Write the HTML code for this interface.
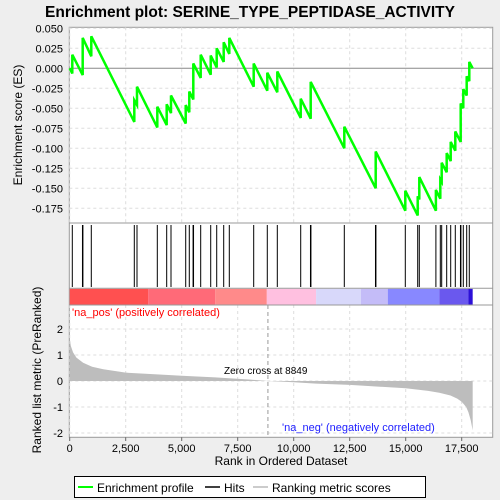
<!DOCTYPE html>
<html><head><meta charset="utf-8"><style>
body{margin:0;background:#eeeeee;}
svg{display:block;font-family:"Liberation Sans",sans-serif;}
</style></head><body>
<svg id="chart" width="500" height="500" viewBox="0 0 500 500">
<rect x="0" y="0" width="500" height="500" fill="#eeeeee"/>
<text x="250" y="17" text-anchor="middle" font-size="15.5" font-weight="bold" fill="#000">Enrichment plot: SERINE_TYPE_PEPTIDASE_ACTIVITY</text>
<rect x="69.3" y="27.3" width="423.4" height="410" fill="#fff" stroke="#999"/>
<g id="grid"></g>
<g id="es"></g>
<g id="hits"></g>
<g id="cbar"></g>
<g id="metric"></g>
<line x1="69.3" y1="223" x2="492.7" y2="223" stroke="#999"/>
<line x1="69.3" y1="288.3" x2="492.7" y2="288.3" stroke="#999"/>
<line x1="69.3" y1="305" x2="492.7" y2="305" stroke="#999"/>
<text x="72" y="316" font-size="11" fill="#ff0000">'na_pos' (positively correlated)</text>
<text x="282" y="431" font-size="11" fill="#2020ff">'na_neg' (negatively correlated)</text>
<text x="224" y="374" font-size="10" fill="#000">Zero cross at 8849</text>
<text x="22" y="125" transform="rotate(-90 22 125)" text-anchor="middle" font-size="12">Enrichment score (ES)</text>
<text x="41" y="370" transform="rotate(-90 41 370)" text-anchor="middle" font-size="12">Ranked list metric (PreRanked)</text>
<text x="281" y="465" text-anchor="middle" font-size="12">Rank in Ordered Dataset</text>
<g>
<rect x="74.5" y="476.5" width="351" height="21" fill="#fff" stroke="#000"/>
<line x1="78" y1="487" x2="93" y2="487" stroke="#00ff00" stroke-width="2"/>
<text x="97" y="492" font-size="12">Enrichment profile</text>
<line x1="205" y1="487" x2="220" y2="487" stroke="#000" stroke-width="1.5"/>
<text x="224" y="492" font-size="12">Hits</text>
<line x1="253" y1="487" x2="268" y2="487" stroke="#bbb" stroke-width="1.5"/>
<text x="272" y="492" font-size="12">Ranking metric scores</text>
</g>
</svg>
<script>
const N = 17990;
const hitRanks = [116,570,590,964,2884,3004,3911,4330,4522,5179,5339,5508,5528,5848,6295,6563,6875,7125,8214,8821,9268,10313,10749,10769,12259,13651,13671,14982,15536,15607,16348,16545,16607,16830,17009,17214,17445,17465,17571,17723,17839];
const esRanks = [116,580,964,2884,3004,3911,4330,4522,5179,5339,5518,5848,6295,6563,6875,7125,8214,8821,9268,10313,10759,12259,13661,14982,15536,15607,16348,16545,16607,16830,17009,17214,17455,17571,17723,17839];
const esBefore = [-0.0065,-0.0084,0.015,-0.067,-0.046,-0.074,-0.071,-0.056,-0.069,-0.055,-0.039,-0.012,-0.008,0.001,0.008,0.018,-0.023,-0.028,-0.030,-0.062,-0.063,-0.100,-0.150,-0.178,-0.184,-0.164,-0.178,-0.163,-0.142,-0.130,-0.116,-0.103,-0.092,-0.050,-0.034,-0.016];
const esAfter = [0.017,0.038,0.040,-0.040,-0.023,-0.048,-0.045,-0.034,-0.046,-0.029,0.006,0.017,0.016,0.025,0.0325,0.038,0.006,-0.0055,-0.004,-0.038,-0.017,-0.073,-0.104,-0.153,-0.160,-0.136,-0.152,-0.139,-0.118,-0.106,-0.092,-0.079,-0.044,-0.026,-0.010,0.008];
const esTicks = [0.05,0.025,0,-0.025,-0.05,-0.075,-0.1,-0.125,-0.15,-0.175];
const esTickLabels = ["0.050","0.025","0.000","-0.025","-0.050","-0.075","-0.100","-0.125","-0.150","-0.175"];
const xTicks = [0,2500,5000,7500,10000,12500,15000,17500];
const xTickLabels = ["0","2,500","5,000","7,500","10,000","12,500","15,000","17,500"];
const metricTicks = [2,1,0,-1,-2];
const metricRanks = [0,50,150,300,600,1000,1500,2500,4000,5000,6500,8000,8849,10000,11000,12500,13500,15000,16000,16500,17000,17300,17500,17700,17800,17900,17990];
const metricValues = [1.65,1.35,1.1,0.9,0.7,0.55,0.45,0.32,0.25,0.2,0.14,0.06,0,-0.05,-0.1,-0.15,-0.2,-0.28,-0.38,-0.45,-0.56,-0.68,-0.8,-1.0,-1.2,-1.5,-1.9];
const cbarStops = [0,3500,6500,8800,11000,13000,14200,16500,17800,17990];
const cbarColors = ["#ff5050","#ff6a78","#ff8a8a","#ffc0e0","#d8d8fa","#c4bcf8","#8888ff","#6a58ee","#2c10d8"];

const sx = r => 69.7 + r*0.0224;
const sy = v => 68.3 - v*800;
const my = v => 381 - v*26;
const NS = "http://www.w3.org/2000/svg";
function mk(tag, attrs, parent){ const e=document.createElementNS(NS,tag); for(const k in attrs) e.setAttribute(k,attrs[k]); parent.appendChild(e); return e; }
const grid = document.getElementById('grid');

xTicks.forEach((t,i)=>{
  const l = mk('line',{x1:sx(t),x2:sx(t),y1:27.3,y2:223,stroke:'#ddd','stroke-dasharray':'3,3'},grid);
  
  
  const l2 = mk('line',{x1:sx(t),x2:sx(t),y1:305,y2:437,stroke:'#ddd','stroke-dasharray':'3,3'},grid);
  
  
  const tk = mk('line',{x1:sx(t),x2:sx(t),y1:437.3,y2:441,stroke:'#666'},grid);
  
  
  const tx = mk('text',{x:sx(t),y:452,'text-anchor':'middle','font-size':'11'},grid);
  tx.textContent = xTickLabels[i];
  
  
});
esTicks.forEach((t,i)=>{
  const l = mk('line',{x1:69.3,x2:492.7,y1:sy(t),y2:sy(t),stroke:t===0?'#888':'#ddd','stroke-dasharray':t===0?'':'3,3'},grid);
  
  
  const tx = mk('text',{x:63,y:sy(t)+4,'text-anchor':'end','font-size':'11'},grid);
  tx.textContent = esTickLabels[i];
  
  
});
metricTicks.forEach(t=>{
  const l = mk('line',{x1:69.3,x2:492.7,y1:my(t),y2:my(t),stroke:'#ddd','stroke-dasharray':'3,3'},grid);
  
  
  const tx = mk('text',{x:63,y:my(t)+4,'text-anchor':'end','font-size':'11'},grid);
  tx.textContent = String(t);
  
  
});
const zl = mk('line',{x1:sx(8849),x2:sx(8849),y1:305,y2:437,stroke:'#999','stroke-dasharray':'4,3'},grid);



let d = 'M'+sx(0)+','+my(0);
metricRanks.forEach((r,i)=>{ d += ' L'+sx(r)+','+my(metricValues[i]); });
d += ' L'+sx(N)+','+my(0)+' Z';
const area = mk('path',{d:d,fill:'#bdbdbd'},document.getElementById('metric'));



const cb = document.getElementById('cbar');
cbarColors.forEach((c,i)=>{
  const r = mk('rect',{x:sx(cbarStops[i]),y:288.8,width:sx(cbarStops[i+1])-sx(cbarStops[i]),height:15.8,fill:c},cb);
  
  
});

const hg = document.getElementById('hits');
hitRanks.forEach(r=>{
  const l = mk('line',{x1:sx(r),x2:sx(r),y1:225,y2:287,stroke:'#000','stroke-width':'1'},hg);
  
  
});

let pts = [[sx(0),sy(0)]];
esRanks.forEach((r,i)=>{
  pts.push([sx(r),sy(esBefore[i])]);
  pts.push([sx(r),sy(esAfter[i])]);
});
pts.push([sx(N),sy(0)]);
const curve = mk('polyline',{points:pts.map(p=>p.join(',')).join(' '),fill:'none',stroke:'#00ff00','stroke-width':'2.5'},document.getElementById('es'));


</script>
</body></html>
